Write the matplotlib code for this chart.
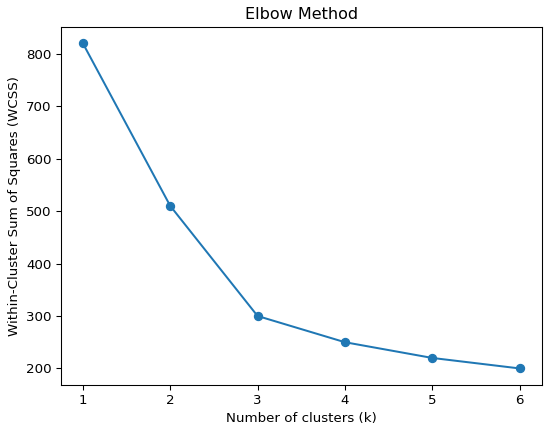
import matplotlib
matplotlib.use("Agg")
import matplotlib.pyplot as plt

k_values = [1, 2, 3, 4, 5, 6]
wcss = [820, 510, 300, 250, 220, 200]

DPI = 96
fig, ax = plt.subplots(figsize=(550 / DPI, 432 / DPI), dpi=DPI)
ax.plot(k_values, wcss, marker='o', color='#1f77b4')
ax.set_title('Elbow Method')
ax.set_xlabel('Number of clusters (k)')
ax.set_ylabel('Within-Cluster Sum of Squares (WCSS)')
fig.subplots_adjust(left=61 / 550, right=541.5 / 550, top=1 - 27 / 432, bottom=1 - 384.7 / 432)
fig.savefig('out.png', dpi=DPI)
